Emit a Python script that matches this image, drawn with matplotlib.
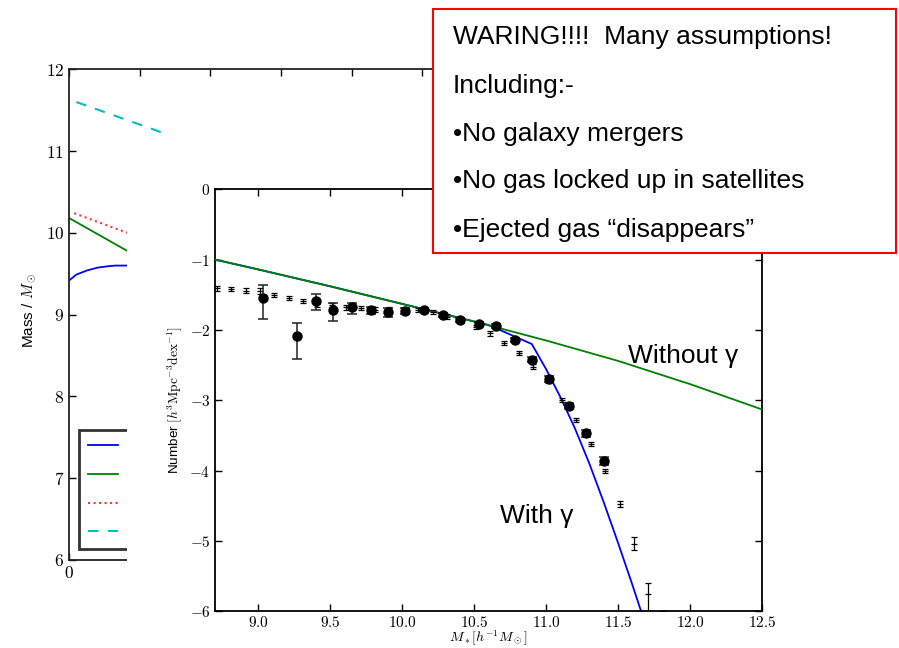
import matplotlib
matplotlib.use('Agg')
import matplotlib.pyplot as plt
from matplotlib.patches import Rectangle
from matplotlib.lines import Line2D
from matplotlib.ticker import FuncFormatter, MultipleLocator

plt.rcParams['mathtext.fontset'] = 'cm'
plt.rcParams['font.family'] = ['Liberation Sans', 'DejaVu Sans']

# ---------------- back panel (mass evolution) ----------------
back_blue_x = [0.0, 0.1, 0.25, 0.4, 0.53, 0.65, 0.82, 0.95]
back_blue_y = [9.42, 9.49, 9.54, 9.575, 9.59, 9.60, 9.60, 9.60]
back_green_x = [0.0, 0.82, 0.95]
back_green_y = [10.18, 9.78, 9.72]
back_red_x = [0.07, 0.76, 0.9]
back_red_y = [10.24, 10.02, 9.98]
back_cyan_x = [0.1, 1.37]
back_cyan_y = [11.60, 11.21]

# ---------------- front panel (stellar mass function) ----------------
without_x = [8.7, 9.0, 9.5, 10.0, 10.5, 11.0, 11.5, 12.0, 12.5]
without_y = [-1.00, -1.14, -1.38, -1.63, -1.88, -2.15, -2.44, -2.77, -3.13]
with_x = [8.7, 9.0, 9.5, 10.0, 10.5, 10.6, 10.9, 11.0, 11.1, 11.2, 11.3, 11.4, 11.5, 11.6, 11.7]
with_y = [-1.00, -1.14, -1.38, -1.63, -1.88, -1.93, -2.20, -2.56, -2.96, -3.40, -3.90, -4.45, -5.03, -5.63, -6.25]

circ_x = [9.03, 9.27, 9.40, 9.52, 9.65, 9.78, 9.90, 10.02, 10.15, 10.28,
          10.40, 10.53, 10.65, 10.78, 10.90, 11.02, 11.16, 11.28, 11.40]
circ_y = [-1.54, -2.08, -1.59, -1.72, -1.68, -1.72, -1.75, -1.73, -1.72, -1.79,
          -1.86, -1.91, -1.94, -2.14, -2.42, -2.70, -3.08, -3.47, -3.86]
circ_err_lo = [0.30, 0.33, 0.13, 0.15, 0.10, 0.05, 0.06, 0.04, 0.03, 0.03,
               0.03, 0.03, 0.03, 0.03, 0.04, 0.04, 0.04, 0.05, 0.06]
circ_err_hi = [0.18, 0.18, 0.10, 0.11, 0.07, 0.05, 0.06, 0.04, 0.03, 0.03,
               0.03, 0.03, 0.03, 0.03, 0.04, 0.04, 0.04, 0.05, 0.06]

plus_x = [8.71, 8.81, 8.91, 9.01, 9.11, 9.21, 9.31, 9.41, 9.51, 9.61, 9.71,
          9.81, 9.91, 10.01, 10.11, 10.21, 10.31, 10.41, 10.51, 10.61, 10.71,
          10.81, 10.91, 11.01, 11.11, 11.21, 11.31, 11.41, 11.51, 11.61, 11.71, 11.81]
plus_y = [-1.41, -1.42, -1.44, -1.45, -1.50, -1.54, -1.59, -1.63, -1.65, -1.68, -1.69,
          -1.71, -1.71, -1.72, -1.72, -1.75, -1.81, -1.87, -1.96, -2.05, -2.18,
          -2.33, -2.52, -2.72, -3.00, -3.28, -3.62, -4.01, -4.47, -5.04, -5.76, -6.30]
plus_err_lo = [0.03, 0.03, 0.03, 0.04, 0.03, 0.03, 0.03, 0.04, 0.03, 0.03, 0.03,
               0.03, 0.03, 0.03, 0.03, 0.03, 0.03, 0.03, 0.03, 0.03, 0.03,
               0.03, 0.03, 0.03, 0.03, 0.03, 0.03, 0.03, 0.04, 0.09, 0.60, 0.30]
plus_err_hi = [0.03, 0.03, 0.03, 0.04, 0.03, 0.03, 0.03, 0.04, 0.03, 0.03, 0.03,
               0.03, 0.03, 0.03, 0.03, 0.03, 0.03, 0.03, 0.03, 0.03, 0.03,
               0.03, 0.03, 0.03, 0.03, 0.03, 0.03, 0.03, 0.04, 0.09, 0.16, 0.30]

note_lines = ["WARING!!!!  Many assumptions!",
              "Including:-",
              "\u2022No galaxy mergers",
              "\u2022No gas locked up in satellites",
              "\u2022Ejected gas \u201cdisappears\u201d"]

W, H = 899, 648
fig = plt.figure(figsize=(W / 100, H / 100), dpi=100)


def rect(l, t, r, b):
    return [l / W, 1 - b / H, (r - l) / W, (b - t) / H]


# back axes
axb = fig.add_axes(rect(69.3, 69.3, 845.6, 560), zorder=0)
axb.plot(back_blue_x, back_blue_y, color='b', lw=1.3)
axb.plot(back_green_x, back_green_y, color='g', lw=1.3)
axb.plot(back_red_x, back_red_y, color='#ff3333', lw=1.5, ls=':')
axb.plot(back_cyan_x, back_cyan_y, color=(0, 0.75, 0.75), lw=1.5, ls=(0, (5, 4.5)))
axb.set_xlim(0, 11)
axb.set_ylim(6, 12)
axb.xaxis.set_major_locator(MultipleLocator(1))
axb.yaxis.set_major_locator(MultipleLocator(1))
axb.xaxis.set_major_formatter(FuncFormatter(lambda v, p: '$%d$' % round(v)))
axb.yaxis.set_major_formatter(FuncFormatter(lambda v, p: '$%d$' % round(v)))
axb.tick_params(direction='in', top=True, right=True, length=5, width=1, labelsize=12.5)
for s in axb.spines.values():
    s.set_linewidth(1.3)
    s.set_color('#222222')
axb.set_ylabel('Mass / $M_\\odot$', fontsize=11)
axb.yaxis.set_label_coords(-0.0403, 0.509)
handles = [Line2D([], [], color='b', lw=1.3), Line2D([], [], color='g', lw=1.3),
           Line2D([], [], color='#ff3333', lw=1.5, ls=':'),
           Line2D([], [], color=(0, 0.75, 0.75), lw=1.5, ls=(0, (5, 4.5)))]
leg = axb.legend(handles, [' '] * 4, loc='lower left', bbox_to_anchor=(0.0129, 0.0218),
                 borderaxespad=0, fontsize=12, handlelength=1.75, labelspacing=0.82,
                 borderpad=0.55, fancybox=False, framealpha=1)
leg.get_frame().set_edgecolor('#333333')
leg.get_frame().set_linewidth(2)

# white cover hiding the rest of the back figure
fig.add_artist(Rectangle((127 / W, 0), (W - 127) / W, 1 - 140 / H, transform=fig.transFigure,
                         facecolor='white', edgecolor='none', zorder=1))

# front axes
axf = fig.add_axes(rect(215.3, 189.3, 762, 611.3), zorder=2)
axf.plot(with_x, with_y, color='b', lw=1.3, zorder=2)
axf.plot(without_x, without_y, color='g', lw=1.3, zorder=3)
axf.errorbar(plus_x, plus_y, yerr=[plus_err_lo, plus_err_hi], fmt='_', color='k',
             ms=5, mew=0.9, elinewidth=0.9, capsize=2.3, capthick=0.9, zorder=4)
axf.errorbar(circ_x, circ_y, yerr=[circ_err_lo, circ_err_hi], fmt='o', color='k',
             ms=6.5, elinewidth=1.1, ecolor='#222222', capsize=3.5, capthick=1.1, zorder=5)
axf.set_xlim(8.7, 12.5)
axf.set_ylim(-6, 0)
axf.xaxis.set_major_locator(MultipleLocator(0.5))
axf.yaxis.set_major_locator(MultipleLocator(1))
axf.xaxis.set_major_formatter(FuncFormatter(lambda v, p: '$%.1f$' % v))
axf.yaxis.set_major_formatter(FuncFormatter(lambda v, p: '$%d$' % round(v)))
axf.tick_params(direction='in', top=True, right=True, length=5, width=1, labelsize=11)
axf.tick_params(axis='x', pad=2.5)
for s in axf.spines.values():
    s.set_linewidth(1.3)
axf.set_xlabel(r'$M_*[h^{-1}M_\odot]$', fontsize=10)
axf.xaxis.set_label_coords(0.5, -0.041)
axf.set_ylabel(r'Number $[h^3\mathrm{Mpc}^{-3}\mathrm{dex}^{-1}]$', fontsize=9.7)
axf.text(11.57, -2.47, 'Without \u03b3', fontsize=19, va='baseline', ha='left')
axf.text(10.68, -4.74, 'With \u03b3', fontsize=19, va='baseline', ha='left')

# warning box
fig.add_artist(Rectangle((432.7 / W, 1 - 253.3 / H), (896 - 432.7) / W, (253.3 - 9) / H,
                         transform=fig.transFigure, facecolor='white', edgecolor='#ff0000',
                         lw=1.5, zorder=3))
baselines = [44.3, 92.7, 140.5, 188.3, 236.7]
for txt, yb in zip(note_lines, baselines):
    fig.text(452.7 / W, 1 - yb / H, txt, fontsize=19, va='baseline', ha='left', zorder=4)

fig.savefig('out.png', dpi=100)
